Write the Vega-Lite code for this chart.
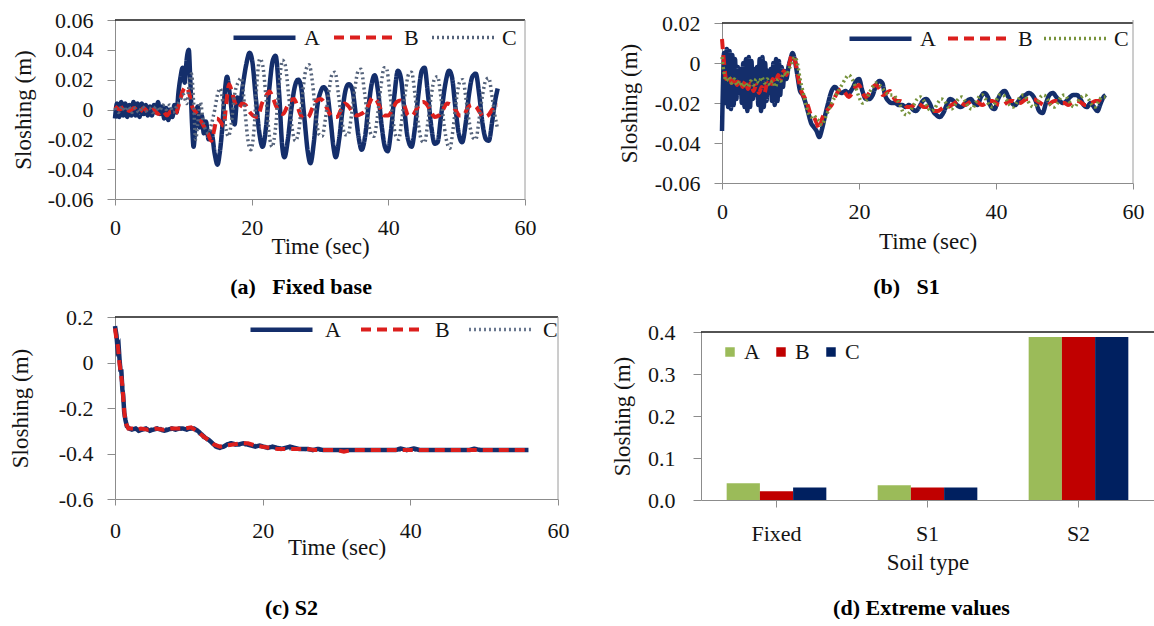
{
"$schema": "https://vega.github.io/schema/vega-lite/v6.json",
"padding": {"left": 8, "top": 4, "right": 0, "bottom": 0},
"background": "white",
"spacing": -2,
"resolve": {"scale": {"color": "independent", "strokeDash": "independent", "strokeWidth": "independent"}},
"datasets": {
"fixed": [
{"t":0,"s":"A","v":-0.006},{"t":0.3,"s":"A","v":0.004},{"t":0.6,"s":"A","v":-0.005},{"t":0.9,"s":"A","v":0.005},{"t":1.2,"s":"A","v":-0.004},{"t":1.5,"s":"A","v":0.004},{"t":1.8,"s":"A","v":-0.005},{"t":2.1,"s":"A","v":0.003},{"t":2.4,"s":"A","v":-0.004},{"t":2.7,"s":"A","v":0.005},{"t":3.0,"s":"A","v":-0.004},{"t":3.3,"s":"A","v":0.004},{"t":3.6,"s":"A","v":-0.005},{"t":3.9,"s":"A","v":0.004},{"t":4.2,"s":"A","v":-0.003},{"t":4.5,"s":"A","v":0.003},{"t":4.8,"s":"A","v":-0.004},{"t":5.1,"s":"A","v":0.002},{"t":5.4,"s":"A","v":-0.004},{"t":5.7,"s":"A","v":0.003},{"t":6.0,"s":"A","v":-0.002},{"t":6.3,"s":"A","v":0.005},{"t":6.6,"s":"A","v":-0.003},{"t":6.9,"s":"A","v":0.002},{"t":7.2,"s":"A","v":-0.006},{"t":7.5,"s":"A","v":0.001},{"t":7.8,"s":"A","v":-0.007},{"t":8.1,"s":"A","v":0.0},{"t":8.4,"s":"A","v":-0.005},{"t":8.7,"s":"A","v":0.003},{"t":9.0,"s":"A","v":-0.002},{"t":9.3,"s":"A","v":0.012},{"t":9.6,"s":"A","v":0.022},{"t":9.9,"s":"A","v":0.028},{"t":10.2,"s":"A","v":0.018},{"t":10.5,"s":"A","v":0.034},{"t":10.8,"s":"A","v":0.04},{"t":11.0,"s":"A","v":0.022},{"t":11.3,"s":"A","v":-0.012},{"t":11.5,"s":"A","v":-0.025},{"t":11.8,"s":"A","v":-0.008},{"t":12.1,"s":"A","v":0.002},{"t":12.4,"s":"A","v":-0.012},{"t":12.7,"s":"A","v":-0.004},{"t":13.0,"s":"A","v":-0.016},{"t":13.3,"s":"A","v":-0.008},{"t":13.7,"s":"A","v":-0.02},{"t":14.1,"s":"A","v":-0.015},{"t":14.6,"s":"A","v":-0.03},{"t":15.0,"s":"A","v":-0.037},{"t":15.3,"s":"A","v":-0.03},{"t":15.7,"s":"A","v":-0.012},{"t":16.0,"s":"A","v":0.008},{"t":16.4,"s":"A","v":0.022},{"t":16.8,"s":"A","v":0.01},{"t":17.2,"s":"A","v":-0.005},{"t":17.5,"s":"A","v":-0.01},{"t":17.9,"s":"A","v":0.008},{"t":18.3,"s":"A","v":0.004},{"t":18.7,"s":"A","v":0.016},{"t":19.2,"s":"A","v":0.03},{"t":19.7,"s":"A","v":0.038},{"t":20.1,"s":"A","v":0.032},{"t":20.6,"s":"A","v":0.008},{"t":21.1,"s":"A","v":-0.015},{"t":21.6,"s":"A","v":-0.025},{"t":22.1,"s":"A","v":-0.012},{"t":22.6,"s":"A","v":0.015},{"t":23.1,"s":"A","v":0.033},{"t":23.5,"s":"A","v":0.036},{"t":24.0,"s":"A","v":0.012},{"t":24.5,"s":"A","v":-0.026},{"t":24.8,"s":"A","v":-0.032},{"t":25.3,"s":"A","v":-0.02},{"t":25.8,"s":"A","v":0.0},{"t":26.3,"s":"A","v":0.015},{"t":26.8,"s":"A","v":0.02},{"t":27.2,"s":"A","v":0.016},{"t":27.7,"s":"A","v":-0.005},{"t":28.2,"s":"A","v":-0.028},{"t":28.6,"s":"A","v":-0.036},{"t":29.1,"s":"A","v":-0.022},{"t":29.6,"s":"A","v":0.002},{"t":30.1,"s":"A","v":0.012},{"t":30.5,"s":"A","v":0.015},{"t":31.0,"s":"A","v":0.012},{"t":31.5,"s":"A","v":-0.005},{"t":32.0,"s":"A","v":-0.026},{"t":32.3,"s":"A","v":-0.032},{"t":32.8,"s":"A","v":-0.02},{"t":33.3,"s":"A","v":0.0},{"t":33.8,"s":"A","v":0.014},{"t":34.2,"s":"A","v":0.017},{"t":34.7,"s":"A","v":0.014},{"t":35.2,"s":"A","v":-0.002},{"t":35.7,"s":"A","v":-0.02},{"t":36.1,"s":"A","v":-0.027},{"t":36.6,"s":"A","v":-0.018},{"t":37.1,"s":"A","v":0.002},{"t":37.6,"s":"A","v":0.018},{"t":38.0,"s":"A","v":0.023},{"t":38.5,"s":"A","v":0.012},{"t":39.0,"s":"A","v":-0.01},{"t":39.5,"s":"A","v":-0.025},{"t":39.9,"s":"A","v":-0.028},{"t":40.4,"s":"A","v":-0.014},{"t":40.9,"s":"A","v":0.01},{"t":41.4,"s":"A","v":0.026},{"t":41.8,"s":"A","v":0.022},{"t":42.3,"s":"A","v":0.002},{"t":42.8,"s":"A","v":-0.018},{"t":43.4,"s":"A","v":-0.025},{"t":43.9,"s":"A","v":-0.012},{"t":44.4,"s":"A","v":0.01},{"t":44.9,"s":"A","v":0.026},{"t":45.3,"s":"A","v":0.028},{"t":45.8,"s":"A","v":0.01},{"t":46.3,"s":"A","v":-0.012},{"t":46.8,"s":"A","v":-0.023},{"t":47.2,"s":"A","v":-0.022},{"t":47.7,"s":"A","v":-0.005},{"t":48.3,"s":"A","v":0.016},{"t":48.9,"s":"A","v":0.026},{"t":49.3,"s":"A","v":0.022},{"t":49.8,"s":"A","v":0.002},{"t":50.3,"s":"A","v":-0.016},{"t":50.8,"s":"A","v":-0.022},{"t":51.3,"s":"A","v":-0.01},{"t":51.8,"s":"A","v":0.01},{"t":52.3,"s":"A","v":0.022},{"t":52.8,"s":"A","v":0.024},{"t":53.3,"s":"A","v":0.01},{"t":53.8,"s":"A","v":-0.01},{"t":54.3,"s":"A","v":-0.02},{"t":54.7,"s":"A","v":-0.021},{"t":55.2,"s":"A","v":-0.008},{"t":55.6,"s":"A","v":0.005},{"t":56.0,"s":"A","v":0.014},
{"t":0,"s":"B","v":0.002},{"t":0.7,"s":"B","v":0.0},{"t":1.4,"s":"B","v":0.002},{"t":2.1,"s":"B","v":-0.001},{"t":2.8,"s":"B","v":0.001},{"t":3.5,"s":"B","v":-0.002},{"t":4.2,"s":"B","v":0.001},{"t":4.9,"s":"B","v":-0.002},{"t":5.6,"s":"B","v":0.0},{"t":6.3,"s":"B","v":-0.003},{"t":7.0,"s":"B","v":-0.001},{"t":7.6,"s":"B","v":-0.004},{"t":8.2,"s":"B","v":-0.001},{"t":8.8,"s":"B","v":-0.003},{"t":9.4,"s":"B","v":0.004},{"t":9.9,"s":"B","v":0.012},{"t":10.4,"s":"B","v":0.015},{"t":10.9,"s":"B","v":0.01},{"t":11.3,"s":"B","v":0.002},{"t":11.7,"s":"B","v":-0.001},{"t":12.2,"s":"B","v":-0.004},{"t":12.6,"s":"B","v":-0.008},{"t":13.1,"s":"B","v":-0.012},{"t":13.6,"s":"B","v":-0.016},{"t":14.1,"s":"B","v":-0.021},{"t":14.5,"s":"B","v":-0.014},{"t":14.9,"s":"B","v":-0.006},{"t":15.4,"s":"B","v":-0.008},{"t":15.9,"s":"B","v":-0.011},{"t":16.3,"s":"B","v":0.005},{"t":16.7,"s":"B","v":0.017},{"t":17.1,"s":"B","v":0.012},{"t":17.6,"s":"B","v":0.004},{"t":18.1,"s":"B","v":0.001},{"t":18.6,"s":"B","v":0.004},{"t":19.1,"s":"B","v":0.003},{"t":19.6,"s":"B","v":-0.001},{"t":20.2,"s":"B","v":-0.004},{"t":20.9,"s":"B","v":-0.005},{"t":21.5,"s":"B","v":0.004},{"t":22.1,"s":"B","v":0.009},{"t":22.6,"s":"B","v":0.012},{"t":23.1,"s":"B","v":0.008},{"t":23.6,"s":"B","v":0.002},{"t":24.1,"s":"B","v":-0.002},{"t":24.6,"s":"B","v":-0.003},{"t":25.2,"s":"B","v":0.002},{"t":25.7,"s":"B","v":0.006},{"t":26.2,"s":"B","v":0.007},{"t":26.7,"s":"B","v":0.002},{"t":27.2,"s":"B","v":-0.004},{"t":27.7,"s":"B","v":-0.006},{"t":28.3,"s":"B","v":-0.005},{"t":28.9,"s":"B","v":0.001},{"t":29.5,"s":"B","v":0.006},{"t":30.1,"s":"B","v":0.007},{"t":30.7,"s":"B","v":0.004},{"t":31.3,"s":"B","v":-0.002},{"t":31.9,"s":"B","v":-0.005},{"t":32.5,"s":"B","v":-0.005},{"t":33.1,"s":"B","v":0.0},{"t":33.6,"s":"B","v":0.004},{"t":34.2,"s":"B","v":0.002},{"t":34.8,"s":"B","v":-0.002},{"t":35.4,"s":"B","v":-0.004},{"t":36.0,"s":"B","v":-0.003},{"t":36.6,"s":"B","v":-0.001},{"t":37.2,"s":"B","v":0.004},{"t":37.7,"s":"B","v":0.008},{"t":38.3,"s":"B","v":0.006},{"t":38.9,"s":"B","v":0.0},{"t":39.4,"s":"B","v":-0.004},{"t":40.0,"s":"B","v":-0.004},{"t":40.6,"s":"B","v":0.0},{"t":41.2,"s":"B","v":0.005},{"t":41.8,"s":"B","v":0.006},{"t":42.4,"s":"B","v":0.002},{"t":42.9,"s":"B","v":-0.004},{"t":43.5,"s":"B","v":-0.004},{"t":44.1,"s":"B","v":0.0},{"t":44.6,"s":"B","v":0.004},{"t":45.1,"s":"B","v":0.005},{"t":45.7,"s":"B","v":0.003},{"t":46.3,"s":"B","v":-0.002},{"t":46.8,"s":"B","v":-0.005},{"t":47.4,"s":"B","v":-0.004},{"t":48.0,"s":"B","v":0.0},{"t":48.6,"s":"B","v":0.004},{"t":49.2,"s":"B","v":0.003},{"t":49.8,"s":"B","v":0.0},{"t":50.4,"s":"B","v":-0.004},{"t":51.0,"s":"B","v":-0.004},{"t":51.6,"s":"B","v":0.001},{"t":52.2,"s":"B","v":0.003},{"t":52.8,"s":"B","v":0.002},{"t":53.4,"s":"B","v":-0.002},{"t":54.0,"s":"B","v":-0.005},{"t":54.6,"s":"B","v":-0.004},{"t":55.2,"s":"B","v":0.0},{"t":55.6,"s":"B","v":0.003},{"t":56.0,"s":"B","v":0.003},
{"t":0,"s":"C","v":0.001},{"t":0.5,"s":"C","v":-0.002},{"t":1.0,"s":"C","v":0.002},{"t":1.5,"s":"C","v":-0.001},{"t":2.0,"s":"C","v":0.002},{"t":2.5,"s":"C","v":-0.002},{"t":3.0,"s":"C","v":0.001},{"t":3.5,"s":"C","v":-0.002},{"t":4.0,"s":"C","v":0.002},{"t":4.5,"s":"C","v":-0.001},{"t":5.0,"s":"C","v":0.001},{"t":5.5,"s":"C","v":-0.002},{"t":6.0,"s":"C","v":0.002},{"t":6.5,"s":"C","v":-0.001},{"t":7.0,"s":"C","v":0.003},{"t":7.5,"s":"C","v":0.0},{"t":8.0,"s":"C","v":0.003},{"t":8.5,"s":"C","v":-0.002},{"t":9.0,"s":"C","v":0.002},{"t":9.5,"s":"C","v":0.006},{"t":10.0,"s":"C","v":0.01},{"t":10.5,"s":"C","v":0.004},{"t":10.9,"s":"C","v":0.018},{"t":11.2,"s":"C","v":0.024},{"t":11.5,"s":"C","v":0.005},{"t":11.8,"s":"C","v":-0.02},{"t":12.1,"s":"C","v":-0.01},{"t":12.5,"s":"C","v":0.005},{"t":12.9,"s":"C","v":-0.008},{"t":13.3,"s":"C","v":-0.014},{"t":13.7,"s":"C","v":-0.016},{"t":14.1,"s":"C","v":-0.01},{"t":14.6,"s":"C","v":0.0},{"t":15.0,"s":"C","v":0.01},{"t":15.4,"s":"C","v":0.014},{"t":15.8,"s":"C","v":0.004},{"t":16.2,"s":"C","v":-0.012},{"t":16.6,"s":"C","v":-0.018},{"t":17.0,"s":"C","v":-0.01},{"t":17.5,"s":"C","v":0.01},{"t":18.0,"s":"C","v":0.018},{"t":18.5,"s":"C","v":0.021},{"t":19.0,"s":"C","v":0.0},{"t":19.5,"s":"C","v":-0.022},{"t":19.9,"s":"C","v":-0.027},{"t":20.4,"s":"C","v":-0.01},{"t":20.8,"s":"C","v":0.02},{"t":21.2,"s":"C","v":0.034},{"t":21.6,"s":"C","v":0.03},{"t":22.1,"s":"C","v":0.008},{"t":22.6,"s":"C","v":-0.018},{"t":23.0,"s":"C","v":-0.025},{"t":23.5,"s":"C","v":-0.012},{"t":24.0,"s":"C","v":0.015},{"t":24.5,"s":"C","v":0.033},{"t":24.9,"s":"C","v":0.03},{"t":25.4,"s":"C","v":0.01},{"t":25.9,"s":"C","v":-0.012},{"t":26.4,"s":"C","v":-0.021},{"t":26.9,"s":"C","v":-0.014},{"t":27.4,"s":"C","v":0.008},{"t":27.9,"s":"C","v":0.026},{"t":28.4,"s":"C","v":0.03},{"t":28.9,"s":"C","v":0.018},{"t":29.4,"s":"C","v":-0.005},{"t":29.9,"s":"C","v":-0.017},{"t":30.3,"s":"C","v":-0.018},{"t":30.8,"s":"C","v":-0.006},{"t":31.3,"s":"C","v":0.012},{"t":31.8,"s":"C","v":0.024},{"t":32.2,"s":"C","v":0.025},{"t":32.7,"s":"C","v":0.01},{"t":33.2,"s":"C","v":-0.008},{"t":33.7,"s":"C","v":-0.017},{"t":34.1,"s":"C","v":-0.017},{"t":34.6,"s":"C","v":-0.004},{"t":35.1,"s":"C","v":0.014},{"t":35.6,"s":"C","v":0.026},{"t":36.0,"s":"C","v":0.027},{"t":36.5,"s":"C","v":0.012},{"t":37.0,"s":"C","v":-0.006},{"t":37.5,"s":"C","v":-0.017},{"t":37.9,"s":"C","v":-0.018},{"t":38.4,"s":"C","v":-0.005},{"t":38.9,"s":"C","v":0.015},{"t":39.4,"s":"C","v":0.028},{"t":39.7,"s":"C","v":0.028},{"t":40.2,"s":"C","v":0.012},{"t":40.7,"s":"C","v":-0.008},{"t":41.2,"s":"C","v":-0.019},{"t":41.5,"s":"C","v":-0.02},{"t":42.0,"s":"C","v":-0.006},{"t":42.5,"s":"C","v":0.012},{"t":43.0,"s":"C","v":0.024},{"t":43.4,"s":"C","v":0.025},{"t":43.9,"s":"C","v":0.01},{"t":44.4,"s":"C","v":-0.01},{"t":44.9,"s":"C","v":-0.021},{"t":45.3,"s":"C","v":-0.022},{"t":45.8,"s":"C","v":-0.008},{"t":46.3,"s":"C","v":0.01},{"t":46.8,"s":"C","v":0.021},{"t":47.2,"s":"C","v":0.022},{"t":47.7,"s":"C","v":0.008},{"t":48.2,"s":"C","v":-0.012},{"t":48.7,"s":"C","v":-0.024},{"t":49.0,"s":"C","v":-0.026},{"t":49.5,"s":"C","v":-0.012},{"t":50.0,"s":"C","v":0.008},{"t":50.5,"s":"C","v":0.019},{"t":50.9,"s":"C","v":0.02},{"t":51.4,"s":"C","v":0.006},{"t":51.9,"s":"C","v":-0.01},{"t":52.4,"s":"C","v":-0.019},{"t":52.8,"s":"C","v":-0.02},{"t":53.3,"s":"C","v":-0.006},{"t":53.8,"s":"C","v":0.01},{"t":54.3,"s":"C","v":0.02},{"t":54.7,"s":"C","v":0.021},{"t":55.2,"s":"C","v":0.008},{"t":55.6,"s":"C","v":-0.004},{"t":56.0,"s":"C","v":-0.013}
],
"s1": [
{"t":0,"s":"A","v":-0.034},{"t":0.15,"s":"A","v":-0.01},{"t":0.3,"s":"A","v":0.005},{"t":0.5,"s":"A","v":-0.02},{"t":0.7,"s":"A","v":0.007},{"t":0.9,"s":"A","v":-0.022},{"t":1.1,"s":"A","v":0.006},{"t":1.3,"s":"A","v":-0.023},{"t":1.5,"s":"A","v":0.004},{"t":1.7,"s":"A","v":-0.021},{"t":1.9,"s":"A","v":0.002},{"t":2.1,"s":"A","v":-0.018},{"t":2.3,"s":"A","v":-0.002},{"t":2.5,"s":"A","v":-0.015},{"t":2.7,"s":"A","v":-0.003},{"t":2.9,"s":"A","v":-0.02},{"t":3.1,"s":"A","v":0.0},{"t":3.3,"s":"A","v":-0.022},{"t":3.5,"s":"A","v":0.002},{"t":3.7,"s":"A","v":-0.024},{"t":3.9,"s":"A","v":0.003},{"t":4.1,"s":"A","v":-0.022},{"t":4.3,"s":"A","v":0.001},{"t":4.5,"s":"A","v":-0.018},{"t":4.7,"s":"A","v":-0.003},{"t":4.9,"s":"A","v":-0.016},{"t":5.1,"s":"A","v":-0.002},{"t":5.3,"s":"A","v":-0.021},{"t":5.5,"s":"A","v":0.002},{"t":5.7,"s":"A","v":-0.024},{"t":5.9,"s":"A","v":0.003},{"t":6.1,"s":"A","v":-0.022},{"t":6.3,"s":"A","v":0.0},{"t":6.5,"s":"A","v":-0.019},{"t":6.7,"s":"A","v":-0.004},{"t":6.9,"s":"A","v":-0.015},{"t":7.1,"s":"A","v":-0.003},{"t":7.3,"s":"A","v":-0.019},{"t":7.5,"s":"A","v":0.0},{"t":7.7,"s":"A","v":-0.021},{"t":7.9,"s":"A","v":0.002},{"t":8.1,"s":"A","v":-0.019},{"t":8.3,"s":"A","v":0.001},{"t":8.5,"s":"A","v":-0.016},{"t":8.7,"s":"A","v":-0.002},{"t":8.9,"s":"A","v":-0.012},{"t":9.1,"s":"A","v":-0.004},{"t":9.4,"s":"A","v":-0.008},{"t":9.7,"s":"A","v":-0.002},{"t":10.0,"s":"A","v":0.002},{"t":10.3,"s":"A","v":0.005},{"t":10.6,"s":"A","v":0.002},{"t":11.0,"s":"A","v":-0.006},{"t":11.4,"s":"A","v":-0.014},{"t":11.8,"s":"A","v":-0.016},{"t":12.2,"s":"A","v":-0.02},{"t":12.6,"s":"A","v":-0.025},{"t":13.0,"s":"A","v":-0.03},{"t":13.4,"s":"A","v":-0.032},{"t":13.8,"s":"A","v":-0.034},{"t":14.2,"s":"A","v":-0.037},{"t":14.6,"s":"A","v":-0.033},{"t":15.0,"s":"A","v":-0.027},{"t":15.5,"s":"A","v":-0.02},{"t":16.0,"s":"A","v":-0.014},{"t":16.5,"s":"A","v":-0.012},{"t":17.0,"s":"A","v":-0.014},{"t":17.5,"s":"A","v":-0.015},{"t":18.0,"s":"A","v":-0.014},{"t":18.5,"s":"A","v":-0.015},{"t":19.0,"s":"A","v":-0.013},{"t":19.6,"s":"A","v":-0.009},{"t":20.0,"s":"A","v":-0.008},{"t":20.5,"s":"A","v":-0.014},{"t":21.0,"s":"A","v":-0.018},{"t":21.5,"s":"A","v":-0.018},{"t":22.0,"s":"A","v":-0.016},{"t":22.5,"s":"A","v":-0.011},{"t":23.0,"s":"A","v":-0.009},{"t":23.4,"s":"A","v":-0.01},{"t":23.8,"s":"A","v":-0.016},{"t":24.3,"s":"A","v":-0.019},{"t":24.8,"s":"A","v":-0.02},{"t":25.3,"s":"A","v":-0.02},{"t":25.8,"s":"A","v":-0.021},{"t":26.3,"s":"A","v":-0.021},{"t":26.8,"s":"A","v":-0.022},{"t":27.3,"s":"A","v":-0.021},{"t":27.8,"s":"A","v":-0.023},{"t":28.3,"s":"A","v":-0.024},{"t":28.8,"s":"A","v":-0.022},{"t":29.3,"s":"A","v":-0.019},{"t":29.8,"s":"A","v":-0.018},{"t":30.3,"s":"A","v":-0.02},{"t":30.8,"s":"A","v":-0.024},{"t":31.3,"s":"A","v":-0.026},{"t":31.8,"s":"A","v":-0.027},{"t":32.3,"s":"A","v":-0.025},{"t":32.8,"s":"A","v":-0.021},{"t":33.3,"s":"A","v":-0.018},{"t":33.8,"s":"A","v":-0.019},{"t":34.3,"s":"A","v":-0.021},{"t":34.8,"s":"A","v":-0.022},{"t":35.3,"s":"A","v":-0.021},{"t":35.8,"s":"A","v":-0.019},{"t":36.3,"s":"A","v":-0.018},{"t":36.8,"s":"A","v":-0.02},{"t":37.3,"s":"A","v":-0.021},{"t":37.8,"s":"A","v":-0.017},{"t":38.3,"s":"A","v":-0.015},{"t":38.8,"s":"A","v":-0.017},{"t":39.3,"s":"A","v":-0.022},{"t":39.8,"s":"A","v":-0.023},{"t":40.3,"s":"A","v":-0.018},{"t":40.8,"s":"A","v":-0.015},{"t":41.3,"s":"A","v":-0.014},{"t":41.8,"s":"A","v":-0.017},{"t":42.3,"s":"A","v":-0.02},{"t":42.8,"s":"A","v":-0.021},{"t":43.3,"s":"A","v":-0.019},{"t":43.8,"s":"A","v":-0.017},{"t":44.3,"s":"A","v":-0.016},{"t":44.8,"s":"A","v":-0.015},{"t":45.3,"s":"A","v":-0.016},{"t":45.8,"s":"A","v":-0.019},{"t":46.3,"s":"A","v":-0.024},{"t":46.8,"s":"A","v":-0.025},{"t":47.3,"s":"A","v":-0.02},{"t":47.8,"s":"A","v":-0.016},{"t":48.3,"s":"A","v":-0.015},{"t":48.8,"s":"A","v":-0.017},{"t":49.3,"s":"A","v":-0.019},{"t":49.8,"s":"A","v":-0.02},{"t":50.3,"s":"A","v":-0.019},{"t":50.8,"s":"A","v":-0.017},{"t":51.3,"s":"A","v":-0.016},{"t":51.8,"s":"A","v":-0.016},{"t":52.3,"s":"A","v":-0.018},{"t":52.8,"s":"A","v":-0.021},{"t":53.3,"s":"A","v":-0.022},{"t":53.8,"s":"A","v":-0.02},{"t":54.3,"s":"A","v":-0.022},{"t":54.8,"s":"A","v":-0.024},{"t":55.3,"s":"A","v":-0.02},{"t":55.7,"s":"A","v":-0.017},{"t":56.0,"s":"A","v":-0.016},
{"t":0,"s":"B","v":0.012},{"t":0.3,"s":"B","v":0.0},{"t":0.6,"s":"B","v":-0.008},{"t":1.0,"s":"B","v":-0.006},{"t":1.4,"s":"B","v":-0.01},{"t":1.8,"s":"B","v":-0.007},{"t":2.2,"s":"B","v":-0.011},{"t":2.6,"s":"B","v":-0.008},{"t":3.0,"s":"B","v":-0.012},{"t":3.4,"s":"B","v":-0.009},{"t":3.8,"s":"B","v":-0.013},{"t":4.2,"s":"B","v":-0.01},{"t":4.6,"s":"B","v":-0.014},{"t":5.0,"s":"B","v":-0.011},{"t":5.4,"s":"B","v":-0.015},{"t":5.8,"s":"B","v":-0.012},{"t":6.2,"s":"B","v":-0.015},{"t":6.6,"s":"B","v":-0.01},{"t":7.0,"s":"B","v":-0.012},{"t":7.4,"s":"B","v":-0.008},{"t":7.8,"s":"B","v":-0.01},{"t":8.2,"s":"B","v":-0.006},{"t":8.6,"s":"B","v":-0.008},{"t":9.0,"s":"B","v":-0.004},{"t":9.4,"s":"B","v":-0.006},{"t":9.8,"s":"B","v":-0.001},{"t":10.2,"s":"B","v":0.004},{"t":10.6,"s":"B","v":0.002},{"t":11.0,"s":"B","v":-0.005},{"t":11.4,"s":"B","v":-0.012},{"t":11.8,"s":"B","v":-0.016},{"t":12.2,"s":"B","v":-0.018},{"t":12.6,"s":"B","v":-0.022},{"t":13.0,"s":"B","v":-0.026},{"t":13.4,"s":"B","v":-0.027},{"t":13.8,"s":"B","v":-0.03},{"t":14.2,"s":"B","v":-0.033},{"t":14.6,"s":"B","v":-0.028},{"t":15.0,"s":"B","v":-0.025},{"t":15.5,"s":"B","v":-0.023},{"t":16.0,"s":"B","v":-0.021},{"t":16.5,"s":"B","v":-0.017},{"t":17.0,"s":"B","v":-0.014},{"t":17.5,"s":"B","v":-0.013},{"t":18.0,"s":"B","v":-0.015},{"t":18.5,"s":"B","v":-0.017},{"t":19.0,"s":"B","v":-0.015},{"t":19.5,"s":"B","v":-0.012},{"t":20.0,"s":"B","v":-0.011},{"t":20.5,"s":"B","v":-0.015},{"t":21.0,"s":"B","v":-0.017},{"t":21.5,"s":"B","v":-0.015},{"t":22.0,"s":"B","v":-0.012},{"t":22.5,"s":"B","v":-0.011},{"t":23.0,"s":"B","v":-0.013},{"t":23.5,"s":"B","v":-0.016},{"t":24.0,"s":"B","v":-0.015},{"t":24.5,"s":"B","v":-0.014},{"t":25.0,"s":"B","v":-0.017},{"t":25.5,"s":"B","v":-0.019},{"t":26.0,"s":"B","v":-0.019},{"t":26.5,"s":"B","v":-0.02},{"t":27.0,"s":"B","v":-0.022},{"t":27.5,"s":"B","v":-0.022},{"t":28.0,"s":"B","v":-0.021},{"t":28.5,"s":"B","v":-0.02},{"t":29.0,"s":"B","v":-0.021},{"t":29.5,"s":"B","v":-0.022},{"t":30.0,"s":"B","v":-0.022},{"t":30.5,"s":"B","v":-0.023},{"t":31.0,"s":"B","v":-0.024},{"t":31.5,"s":"B","v":-0.024},{"t":32.0,"s":"B","v":-0.023},{"t":32.5,"s":"B","v":-0.022},{"t":33.0,"s":"B","v":-0.022},{"t":33.5,"s":"B","v":-0.021},{"t":34.0,"s":"B","v":-0.02},{"t":34.5,"s":"B","v":-0.019},{"t":35.0,"s":"B","v":-0.02},{"t":35.5,"s":"B","v":-0.021},{"t":36.0,"s":"B","v":-0.02},{"t":36.5,"s":"B","v":-0.019},{"t":37.0,"s":"B","v":-0.019},{"t":37.5,"s":"B","v":-0.02},{"t":38.0,"s":"B","v":-0.021},{"t":38.5,"s":"B","v":-0.02},{"t":39.0,"s":"B","v":-0.019},{"t":39.5,"s":"B","v":-0.019},{"t":40.0,"s":"B","v":-0.02},{"t":40.5,"s":"B","v":-0.021},{"t":41.0,"s":"B","v":-0.021},{"t":41.5,"s":"B","v":-0.02},{"t":42.0,"s":"B","v":-0.019},{"t":42.5,"s":"B","v":-0.019},{"t":43.0,"s":"B","v":-0.02},{"t":43.5,"s":"B","v":-0.02},{"t":44.0,"s":"B","v":-0.019},{"t":44.5,"s":"B","v":-0.018},{"t":45.0,"s":"B","v":-0.018},{"t":45.5,"s":"B","v":-0.018},{"t":46.0,"s":"B","v":-0.019},{"t":46.5,"s":"B","v":-0.02},{"t":47.0,"s":"B","v":-0.021},{"t":47.5,"s":"B","v":-0.021},{"t":48.0,"s":"B","v":-0.02},{"t":48.5,"s":"B","v":-0.019},{"t":49.0,"s":"B","v":-0.019},{"t":49.5,"s":"B","v":-0.02},{"t":50.0,"s":"B","v":-0.02},{"t":50.5,"s":"B","v":-0.021},{"t":51.0,"s":"B","v":-0.02},{"t":51.5,"s":"B","v":-0.019},{"t":52.0,"s":"B","v":-0.019},{"t":52.5,"s":"B","v":-0.02},{"t":53.0,"s":"B","v":-0.021},{"t":53.5,"s":"B","v":-0.021},{"t":54.0,"s":"B","v":-0.02},{"t":54.5,"s":"B","v":-0.019},{"t":55.0,"s":"B","v":-0.019},{"t":55.5,"s":"B","v":-0.02},{"t":56.0,"s":"B","v":-0.02},
{"t":0,"s":"C","v":0.003},{"t":0.3,"s":"C","v":-0.005},{"t":0.6,"s":"C","v":-0.009},{"t":1.0,"s":"C","v":-0.007},{"t":1.4,"s":"C","v":-0.01},{"t":1.8,"s":"C","v":-0.008},{"t":2.2,"s":"C","v":-0.011},{"t":2.6,"s":"C","v":-0.009},{"t":3.0,"s":"C","v":-0.012},{"t":3.4,"s":"C","v":-0.01},{"t":3.8,"s":"C","v":-0.012},{"t":4.2,"s":"C","v":-0.009},{"t":4.6,"s":"C","v":-0.011},{"t":5.0,"s":"C","v":-0.008},{"t":5.4,"s":"C","v":-0.01},{"t":5.8,"s":"C","v":-0.007},{"t":6.2,"s":"C","v":-0.01},{"t":6.6,"s":"C","v":-0.008},{"t":7.0,"s":"C","v":-0.011},{"t":7.4,"s":"C","v":-0.009},{"t":7.8,"s":"C","v":-0.012},{"t":8.2,"s":"C","v":-0.008},{"t":8.6,"s":"C","v":-0.009},{"t":9.0,"s":"C","v":-0.005},{"t":9.4,"s":"C","v":-0.006},{"t":9.8,"s":"C","v":-0.003},{"t":10.2,"s":"C","v":0.0},{"t":10.6,"s":"C","v":0.003},{"t":11.0,"s":"C","v":0.0},{"t":11.4,"s":"C","v":-0.008},{"t":11.8,"s":"C","v":-0.014},{"t":12.2,"s":"C","v":-0.02},{"t":12.6,"s":"C","v":-0.025},{"t":13.0,"s":"C","v":-0.027},{"t":13.4,"s":"C","v":-0.026},{"t":13.8,"s":"C","v":-0.028},{"t":14.2,"s":"C","v":-0.029},{"t":14.6,"s":"C","v":-0.031},{"t":15.0,"s":"C","v":-0.028},{"t":15.5,"s":"C","v":-0.024},{"t":16.0,"s":"C","v":-0.02},{"t":16.5,"s":"C","v":-0.017},{"t":17.0,"s":"C","v":-0.014},{"t":17.5,"s":"C","v":-0.011},{"t":18.0,"s":"C","v":-0.008},{"t":18.5,"s":"C","v":-0.006},{"t":19.0,"s":"C","v":-0.008},{"t":19.5,"s":"C","v":-0.012},{"t":20.0,"s":"C","v":-0.017},{"t":20.5,"s":"C","v":-0.02},{"t":21.0,"s":"C","v":-0.019},{"t":21.5,"s":"C","v":-0.015},{"t":22.0,"s":"C","v":-0.012},{"t":22.5,"s":"C","v":-0.01},{"t":23.0,"s":"C","v":-0.011},{"t":23.5,"s":"C","v":-0.013},{"t":24.0,"s":"C","v":-0.015},{"t":24.5,"s":"C","v":-0.016},{"t":25.0,"s":"C","v":-0.016},{"t":25.5,"s":"C","v":-0.018},{"t":26.0,"s":"C","v":-0.021},{"t":26.5,"s":"C","v":-0.025},{"t":27.0,"s":"C","v":-0.026},{"t":27.5,"s":"C","v":-0.024},{"t":28.0,"s":"C","v":-0.021},{"t":28.5,"s":"C","v":-0.018},{"t":29.0,"s":"C","v":-0.017},{"t":29.5,"s":"C","v":-0.019},{"t":30.0,"s":"C","v":-0.022},{"t":30.5,"s":"C","v":-0.024},{"t":31.0,"s":"C","v":-0.023},{"t":31.5,"s":"C","v":-0.02},{"t":32.0,"s":"C","v":-0.018},{"t":32.5,"s":"C","v":-0.019},{"t":33.0,"s":"C","v":-0.022},{"t":33.5,"s":"C","v":-0.023},{"t":34.0,"s":"C","v":-0.021},{"t":34.5,"s":"C","v":-0.018},{"t":35.0,"s":"C","v":-0.017},{"t":35.5,"s":"C","v":-0.019},{"t":36.0,"s":"C","v":-0.022},{"t":36.5,"s":"C","v":-0.023},{"t":37.0,"s":"C","v":-0.02},{"t":37.5,"s":"C","v":-0.017},{"t":38.0,"s":"C","v":-0.016},{"t":38.5,"s":"C","v":-0.018},{"t":39.0,"s":"C","v":-0.021},{"t":39.5,"s":"C","v":-0.022},{"t":40.0,"s":"C","v":-0.019},{"t":40.5,"s":"C","v":-0.016},{"t":41.0,"s":"C","v":-0.016},{"t":41.5,"s":"C","v":-0.018},{"t":42.0,"s":"C","v":-0.021},{"t":42.5,"s":"C","v":-0.022},{"t":43.0,"s":"C","v":-0.02},{"t":43.5,"s":"C","v":-0.017},{"t":44.0,"s":"C","v":-0.016},{"t":44.5,"s":"C","v":-0.018},{"t":45.0,"s":"C","v":-0.021},{"t":45.5,"s":"C","v":-0.022},{"t":46.0,"s":"C","v":-0.02},{"t":46.5,"s":"C","v":-0.017},{"t":47.0,"s":"C","v":-0.016},{"t":47.5,"s":"C","v":-0.018},{"t":48.0,"s":"C","v":-0.021},{"t":48.5,"s":"C","v":-0.022},{"t":49.0,"s":"C","v":-0.02},{"t":49.5,"s":"C","v":-0.017},{"t":50.0,"s":"C","v":-0.016},{"t":50.5,"s":"C","v":-0.018},{"t":51.0,"s":"C","v":-0.021},{"t":51.5,"s":"C","v":-0.022},{"t":52.0,"s":"C","v":-0.019},{"t":52.5,"s":"C","v":-0.017},{"t":53.0,"s":"C","v":-0.016},{"t":53.5,"s":"C","v":-0.018},{"t":54.0,"s":"C","v":-0.021},{"t":54.5,"s":"C","v":-0.022},{"t":55.0,"s":"C","v":-0.019},{"t":55.5,"s":"C","v":-0.017},{"t":56.0,"s":"C","v":-0.017}
],
"s2": [
{"t":0,"s":"C","v":0.16},{"t":0.3,"s":"C","v":0.08},{"t":0.6,"s":"C","v":0.02},{"t":0.9,"s":"C","v":-0.06},{"t":1.1,"s":"C","v":-0.14},{"t":1.3,"s":"C","v":-0.24},{"t":1.6,"s":"C","v":-0.28},{"t":2,"s":"C","v":-0.29},{"t":4,"s":"C","v":-0.295},{"t":6,"s":"C","v":-0.29},{"t":8,"s":"C","v":-0.295},{"t":10,"s":"C","v":-0.29},{"t":11,"s":"C","v":-0.3},{"t":12,"s":"C","v":-0.33},{"t":13,"s":"C","v":-0.35},{"t":14,"s":"C","v":-0.37},{"t":15,"s":"C","v":-0.365},{"t":17,"s":"C","v":-0.36},{"t":19,"s":"C","v":-0.365},{"t":21,"s":"C","v":-0.37},{"t":23,"s":"C","v":-0.378},{"t":25,"s":"C","v":-0.38},{"t":27,"s":"C","v":-0.385},{"t":30,"s":"C","v":-0.385},{"t":35,"s":"C","v":-0.385},{"t":40,"s":"C","v":-0.385},{"t":45,"s":"C","v":-0.385},{"t":50,"s":"C","v":-0.385},{"t":56,"s":"C","v":-0.385},
{"t":0,"s":"A","v":0.16},{"t":0.2,"s":"A","v":0.12},{"t":0.35,"s":"A","v":0.06},{"t":0.5,"s":"A","v":0.07},{"t":0.6,"s":"A","v":0.02},{"t":0.75,"s":"A","v":-0.04},{"t":0.85,"s":"A","v":-0.03},{"t":1.0,"s":"A","v":-0.12},{"t":1.1,"s":"A","v":-0.14},{"t":1.25,"s":"A","v":-0.22},{"t":1.4,"s":"A","v":-0.25},{"t":1.6,"s":"A","v":-0.28},{"t":1.9,"s":"A","v":-0.29},{"t":2.3,"s":"A","v":-0.295},{"t":2.8,"s":"A","v":-0.29},{"t":3.2,"s":"A","v":-0.3},{"t":3.7,"s":"A","v":-0.295},{"t":4.2,"s":"A","v":-0.29},{"t":4.7,"s":"A","v":-0.3},{"t":5.2,"s":"A","v":-0.295},{"t":5.7,"s":"A","v":-0.29},{"t":6.2,"s":"A","v":-0.295},{"t":6.7,"s":"A","v":-0.3},{"t":7.2,"s":"A","v":-0.295},{"t":7.7,"s":"A","v":-0.29},{"t":8.2,"s":"A","v":-0.295},{"t":8.7,"s":"A","v":-0.29},{"t":9.2,"s":"A","v":-0.29},{"t":9.7,"s":"A","v":-0.295},{"t":10.2,"s":"A","v":-0.29},{"t":10.7,"s":"A","v":-0.29},{"t":11.2,"s":"A","v":-0.3},{"t":11.7,"s":"A","v":-0.315},{"t":12.2,"s":"A","v":-0.33},{"t":12.7,"s":"A","v":-0.34},{"t":13.2,"s":"A","v":-0.355},{"t":13.7,"s":"A","v":-0.37},{"t":14.2,"s":"A","v":-0.375},{"t":14.7,"s":"A","v":-0.37},{"t":15.2,"s":"A","v":-0.36},{"t":15.7,"s":"A","v":-0.355},{"t":16.3,"s":"A","v":-0.36},{"t":16.8,"s":"A","v":-0.36},{"t":17.4,"s":"A","v":-0.355},{"t":17.9,"s":"A","v":-0.36},{"t":18.5,"s":"A","v":-0.365},{"t":19.0,"s":"A","v":-0.37},{"t":19.6,"s":"A","v":-0.365},{"t":20.1,"s":"A","v":-0.37},{"t":20.7,"s":"A","v":-0.375},{"t":21.3,"s":"A","v":-0.37},{"t":21.9,"s":"A","v":-0.375},{"t":22.5,"s":"A","v":-0.38},{"t":23.1,"s":"A","v":-0.375},{"t":23.7,"s":"A","v":-0.37},{"t":24.3,"s":"A","v":-0.375},{"t":24.9,"s":"A","v":-0.38},{"t":25.5,"s":"A","v":-0.38},{"t":26.1,"s":"A","v":-0.38},{"t":26.8,"s":"A","v":-0.385},{"t":27.5,"s":"A","v":-0.38},{"t":28.2,"s":"A","v":-0.385},{"t":29,"s":"A","v":-0.385},{"t":31,"s":"A","v":-0.385},{"t":33,"s":"A","v":-0.385},{"t":35,"s":"A","v":-0.385},{"t":37,"s":"A","v":-0.385},{"t":38,"s":"A","v":-0.385},{"t":38.7,"s":"A","v":-0.378},{"t":39.5,"s":"A","v":-0.385},{"t":40.5,"s":"A","v":-0.378},{"t":41.3,"s":"A","v":-0.385},{"t":44,"s":"A","v":-0.385},{"t":48,"s":"A","v":-0.385},{"t":48.7,"s":"A","v":-0.379},{"t":49.5,"s":"A","v":-0.385},{"t":52,"s":"A","v":-0.385},{"t":56,"s":"A","v":-0.385},
{"t":0,"s":"B","v":0.15},{"t":0.2,"s":"B","v":0.1},{"t":0.4,"s":"B","v":0.07},{"t":0.6,"s":"B","v":0.0},{"t":0.8,"s":"B","v":-0.05},{"t":1.0,"s":"B","v":-0.1},{"t":1.15,"s":"B","v":-0.17},{"t":1.3,"s":"B","v":-0.23},{"t":1.5,"s":"B","v":-0.27},{"t":1.8,"s":"B","v":-0.29},{"t":2.5,"s":"B","v":-0.29},{"t":3.0,"s":"B","v":-0.295},{"t":3.5,"s":"B","v":-0.29},{"t":4.5,"s":"B","v":-0.295},{"t":5.5,"s":"B","v":-0.29},{"t":6.5,"s":"B","v":-0.295},{"t":7.5,"s":"B","v":-0.29},{"t":8.5,"s":"B","v":-0.29},{"t":9.5,"s":"B","v":-0.29},{"t":10.3,"s":"B","v":-0.285},{"t":11.0,"s":"B","v":-0.3},{"t":11.8,"s":"B","v":-0.32},{"t":12.6,"s":"B","v":-0.34},{"t":13.4,"s":"B","v":-0.36},{"t":14.2,"s":"B","v":-0.37},{"t":15.0,"s":"B","v":-0.365},{"t":16.0,"s":"B","v":-0.36},{"t":17.0,"s":"B","v":-0.355},{"t":18.0,"s":"B","v":-0.355},{"t":19.0,"s":"B","v":-0.365},{"t":20.0,"s":"B","v":-0.37},{"t":21.0,"s":"B","v":-0.375},{"t":22.0,"s":"B","v":-0.38},{"t":24.0,"s":"B","v":-0.38},{"t":26.0,"s":"B","v":-0.38},{"t":27.0,"s":"B","v":-0.385},{"t":29.0,"s":"B","v":-0.385},{"t":30.0,"s":"B","v":-0.385},{"t":31.0,"s":"B","v":-0.392},{"t":32.0,"s":"B","v":-0.385},{"t":36,"s":"B","v":-0.385},{"t":40,"s":"B","v":-0.385},{"t":44,"s":"B","v":-0.385},{"t":48,"s":"B","v":-0.385},{"t":52,"s":"B","v":-0.385},{"t":56,"s":"B","v":-0.385}
],
"extreme": [
{"soil":"Fixed","s":"A","v":0.04},{"soil":"Fixed","s":"B","v":0.021},{"soil":"Fixed","s":"C","v":0.03},
{"soil":"S1","s":"A","v":0.035},{"soil":"S1","s":"B","v":0.03},{"soil":"S1","s":"C","v":0.03},
{"soil":"S2","s":"A","v":0.388},{"soil":"S2","s":"B","v":0.388},{"soil":"S2","s":"C","v":0.388}
]
},
"vconcat": [
{
"hconcat": [
{
"width": 410, "height": 179,
"title": {"text": "(a)\u00a0\u00a0 Fixed base", "offset": 19, "dx": -19},
"layer": [
{"data": {"name": "fixed"}, "mark": {"type": "line", "interpolate": "monotone"},
 "encoding": {
  "x": {"field": "t", "type": "quantitative", "scale": {"domain": [0, 60], "nice": false}, "axis": {"values": [0, 20, 40, 60], "title": "Time (sec)", "tickSize": 6, "labelPadding": 12, "titlePadding": -3, "labelOverlap": false}},
  "y": {"field": "v", "type": "quantitative", "scale": {"domain": [-0.06, 0.06], "nice": false, "zero": false}, "axis": {"values": [-0.06, -0.04, -0.02, 0, 0.02, 0.04, 0.06], "tickCount": 10, "labelExpr": "datum.value == 0 ? '0' : (datum.value < 0 ? '-' : '') + format(abs(datum.value), '.2f')", "title": "Sloshing (m)", "titleX": -92, "titleBaseline": "middle", "labelPadding": 14, "tickSize": 8, "labelOverlap": false}},
  "color": {"field": "s", "type": "nominal", "scale": {"domain": ["A", "B", "C"], "range": ["#142e6b", "#dc1f1d", "#56647c"]}, "legend": {"title": null, "orient": "none", "legendX": 116, "legendY": -16, "direction": "horizontal", "symbolType": "stroke", "symbolSize": 3844, "symbolStrokeWidth": 4, "labelOffset": 6, "columnPadding": 6, "padding": 0}},
  "strokeDash": {"field": "s", "type": "nominal", "scale": {"domain": ["A", "B", "C"], "range": [[1, 0], [10, 6], [2, 3]]}, "legend": {"title": null, "orient": "none", "legendX": 116, "legendY": -16, "direction": "horizontal", "symbolType": "stroke", "symbolSize": 3844, "symbolStrokeWidth": 4, "labelOffset": 6, "columnPadding": 6, "padding": 0}},
  "strokeWidth": {"field": "s", "type": "nominal", "scale": {"domain": ["A", "B", "C"], "range": [4.5, 3.5, 3]}, "legend": null}
 }},
{"data": {"values": [{}]}, "mark": {"type": "rule", "color": "#1a1a1a", "strokeWidth": 1.5}, "encoding": {"y": {"datum": 0.06}}},
{"data": {"values": [{}]}, "mark": {"type": "rule", "color": "#9a9a9a", "strokeWidth": 1}, "encoding": {"x": {"datum": 60}}}
]
},
{
"width": 411, "height": 163,
"title": {"text": "(b)\u00a0\u00a0 S1", "offset": 24, "dx": -21},
"layer": [
{"data": {"name": "s1"}, "mark": {"type": "line", "interpolate": "monotone"},
 "encoding": {
  "x": {"field": "t", "type": "quantitative", "scale": {"domain": [0, 60], "nice": false}, "axis": {"values": [0, 20, 40, 60], "title": "Time (sec)", "tickSize": 6, "labelPadding": 12, "titlePadding": 8, "labelOverlap": false}},
  "y": {"field": "v", "type": "quantitative", "scale": {"domain": [-0.06, 0.02], "range": [163, 3], "nice": false, "zero": false}, "axis": {"values": [-0.06, -0.04, -0.02, 0, 0.02], "tickCount": 10, "labelExpr": "datum.value == 0 ? '0' : (datum.value < 0 ? '-' : '') + format(abs(datum.value), '.2f')", "title": "Sloshing (m)", "titleX": -93, "titleBaseline": "middle", "labelPadding": 14, "tickSize": 8, "labelOverlap": false}},
  "color": {"field": "s", "type": "nominal", "scale": {"domain": ["A", "B", "C"], "range": ["#142e6b", "#dc1f1d", "#77933c"]}, "legend": {"title": null, "orient": "none", "legendX": 125, "legendY": -15, "direction": "horizontal", "symbolType": "stroke", "symbolSize": 3844, "symbolStrokeWidth": 4, "labelOffset": 6, "columnPadding": 4, "padding": 0}},
  "strokeDash": {"field": "s", "type": "nominal", "scale": {"domain": ["A", "B", "C"], "range": [[1, 0], [10, 6], [2, 3]]}, "legend": {"title": null, "orient": "none", "legendX": 125, "legendY": -15, "direction": "horizontal", "symbolType": "stroke", "symbolSize": 3844, "symbolStrokeWidth": 4, "labelOffset": 6, "columnPadding": 4, "padding": 0}},
  "strokeWidth": {"field": "s", "type": "nominal", "scale": {"domain": ["A", "B", "C"], "range": [4.5, 3.5, 3]}, "legend": null}
 }},
{"data": {"values": [{}]}, "mark": {"type": "rule", "color": "#1a1a1a", "strokeWidth": 1.5}, "encoding": {"y": {"datum": 0.02}}},
{"data": {"values": [{}]}, "mark": {"type": "rule", "color": "#9a9a9a", "strokeWidth": 1}, "encoding": {"x": {"datum": 60}}}
]
}
],
"spacing": 197, "bounds": "flush",
"resolve": {"scale": {"color": "independent", "strokeDash": "independent", "strokeWidth": "independent"}}
},
{
"hconcat": [
{
"width": 443, "height": 182,
"title": {"text": "(c) S2", "offset": 39, "dx": -45},
"layer": [
{"data": {"name": "s2"}, "mark": {"type": "line"},
 "encoding": {
  "x": {"field": "t", "type": "quantitative", "scale": {"domain": [0, 60], "nice": false}, "axis": {"values": [0, 20, 40, 60], "title": "Time (sec)", "tickSize": 6, "labelPadding": 15, "titlePadding": -5, "labelOverlap": false}},
  "y": {"field": "v", "type": "quantitative", "scale": {"domain": [-0.6, 0.2], "nice": false, "zero": false}, "axis": {"values": [-0.6, -0.4, -0.2, 0, 0.2], "tickCount": 10, "labelExpr": "datum.value == 0 ? '0' : (datum.value < 0 ? '-' : '') + format(abs(datum.value), '.1f')", "title": "Sloshing (m)", "titleX": -95, "titleBaseline": "middle", "labelPadding": 14, "tickSize": 8, "labelOverlap": false}},
  "color": {"field": "s", "type": "nominal", "scale": {"domain": ["A", "B", "C"], "range": ["#142e6b", "#dc1f1d", "#6a7890"]}, "legend": {"title": null, "orient": "none", "legendX": 133, "legendY": -21, "direction": "horizontal", "symbolType": "stroke", "symbolSize": 3844, "symbolStrokeWidth": 4, "labelOffset": 10, "columnPadding": 12, "padding": 0}},
  "strokeDash": {"field": "s", "type": "nominal", "scale": {"domain": ["A", "B", "C"], "range": [[1, 0], [10, 6], [2, 3]]}, "legend": {"title": null, "orient": "none", "legendX": 133, "legendY": -21, "direction": "horizontal", "symbolType": "stroke", "symbolSize": 3844, "symbolStrokeWidth": 4, "labelOffset": 10, "columnPadding": 12, "padding": 0}},
  "strokeWidth": {"field": "s", "type": "nominal", "scale": {"domain": ["A", "B", "C"], "range": [4.5, 3.5, 3]}, "legend": null}
 }},
{"data": {"values": [{}]}, "mark": {"type": "rule", "color": "#1a1a1a", "strokeWidth": 1.5}, "encoding": {"y": {"datum": 0.2}}},
{"data": {"values": [{}]}, "mark": {"type": "rule", "color": "#9a9a9a", "strokeWidth": 1}, "encoding": {"x": {"datum": 60}}}
]
},
{
"width": 453, "height": 183,
"title": {"text": "(d) Extreme values", "offset": 24, "dx": -6},
"layer": [
{"data": {"name": "extreme"}, "mark": {"type": "bar"},
 "encoding": {
  "x": {"field": "soil", "type": "nominal", "sort": ["Fixed", "S1", "S2"], "scale": {"paddingInner": 0.34, "paddingOuter": 0.17}, "axis": {"title": "Soil type", "labelAngle": 0, "tickSize": 7, "labelPadding": 16, "titlePadding": 7}},
  "xOffset": {"field": "s", "type": "nominal", "sort": ["A", "B", "C"], "scale": {"paddingInner": 0, "paddingOuter": 0}},
  "y": {"field": "v", "type": "quantitative", "scale": {"domain": [0, 0.4], "range": [183, 15], "nice": false}, "axis": {"values": [0, 0.1, 0.2, 0.3, 0.4], "tickCount": 10, "format": ".1f", "title": "Sloshing (m)", "titleX": -79, "titleBaseline": "middle", "labelPadding": 18, "tickSize": 8, "labelOverlap": false}},
  "color": {"field": "s", "type": "nominal", "scale": {"domain": ["A", "B", "C"], "range": ["#9bbb59", "#c00000", "#002060"]}, "legend": {"title": null, "orient": "none", "legendX": 18, "legendY": 24, "direction": "horizontal", "symbolType": "square", "symbolSize": 90, "labelOffset": 3, "columnPadding": 10, "padding": 0}}
 }},
{"data": {"values": [{}]}, "mark": {"type": "rule", "color": "#1a1a1a", "strokeWidth": 1.5}, "encoding": {"y": {"datum": 0.4}}}
]
}
],
"spacing": 143, "bounds": "flush",
"resolve": {"scale": {"color": "independent", "strokeDash": "independent", "strokeWidth": "independent"}}
}
],
"config": {
"font": "Liberation Serif",
"view": {"stroke": null},
"axis": {"labelFont": "Liberation Serif", "titleFont": "Liberation Serif", "labelFontSize": 22, "titleFontSize": 23, "titleFontWeight": "normal", "labelColor": "#141414", "titleColor": "#141414", "domainColor": "#8c8c8c", "tickColor": "#8c8c8c", "grid": false, "labelFlush": false, "labelOverlap": false},
"legend": {"labelFont": "Liberation Serif", "labelFontSize": 22, "labelColor": "#141414"},
"title": {"font": "Liberation Serif", "fontSize": 22, "fontWeight": "bold", "color": "#000000", "orient": "bottom", "frame": "group"}
}
}
